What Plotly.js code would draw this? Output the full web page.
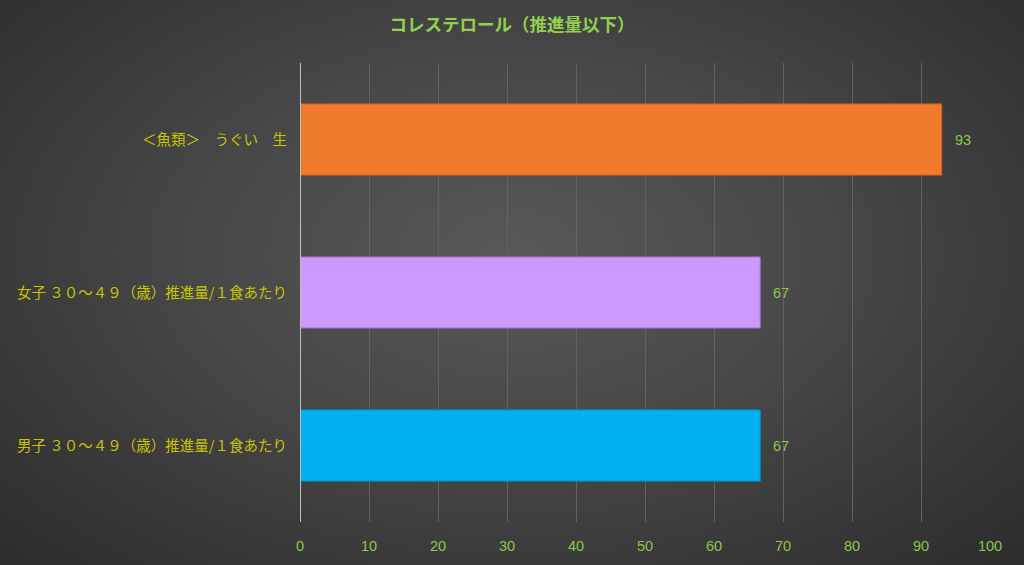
<!DOCTYPE html>
<html>
<head>
<meta charset="utf-8">
<script src="https://cdn.plot.ly/plotly-3.0.1.min.js"></script>
<style>
  html, body { margin: 0; padding: 0; }
  #chart {
    width: 1024px; height: 565px;
    background: radial-gradient(ellipse at 50% 45%, #585858 0%, #474747 45%, #2c2c2c 100%);
  }
</style>
</head>
<body>
<div id="chart"></div>
<script>
// bottom-to-top order, as the category axis draws them
const categories = [
  '男子 ３０～４９（歳）推進量/１食あたり',
  '女子 ３０～４９（歳）推進量/１食あたり',
  '＜魚類＞　うぐい　生'
];
const values = [66.7, 66.7, 93];
const barColors = ['#00B0F0', '#CC99FF', '#F07B2C'];
const edgeColors = ['#0094CC', '#9B6FCC', '#D5611C'];
const xTicks = [0, 10, 20, 30, 40, 50, 60, 70, 80, 90, 100];

const trace = {
  type: 'bar',
  orientation: 'h',
  y: categories,
  x: values,
  marker: { color: barColors, line: { color: edgeColors, width: 1 } },
  hoverinfo: 'skip',
  showlegend: false
};

// value labels sit a little right of each bar end, rounded like the source
const valueLabels = values.map(function (v, i) {
  return {
    x: v, y: categories[i], xref: 'x', yref: 'y',
    text: String(Math.round(v)), showarrow: false, xanchor: 'left', xshift: 11,
    font: { family: 'Liberation Sans, Arial, sans-serif', size: 14.5, color: '#8CC84B' }
  };
});

const layout = {
  width: 1024,
  height: 565,
  paper_bgcolor: 'rgba(0,0,0,0)',
  plot_bgcolor: 'rgba(0,0,0,0)',
  margin: { l: 300, r: 34, t: 63, b: 43, pad: 0 },
  bargap: 0.535,
  title: {
    text: '<b>コレステロール（推進量以下）</b>',
    x: 0.5, xref: 'container', xanchor: 'center',
    y: 0.956, yref: 'container', yanchor: 'middle',
    font: { family: 'Noto Sans CJK JP, sans-serif', size: 17.5, color: '#92D050' }
  },
  xaxis: {
    range: [0, 100],
    tickvals: xTicks,
    showgrid: true,
    gridcolor: '#626262',
    gridwidth: 1,
    zeroline: false,
    showline: false,
    ticks: '',
    ticklabelstandoff: 13,
    tickfont: { family: 'Liberation Sans, Arial, sans-serif', size: 14.5, color: '#8CC84B' },
    fixedrange: true
  },
  yaxis: {
    showgrid: false,
    zeroline: false,
    showline: false,
    ticks: '',
    ticklabelstandoff: 12,
    tickfont: { family: 'Noto Sans CJK JP, sans-serif', size: 14.5, color: '#C8C400' },
    fixedrange: true
  },
  shapes: [{
    type: 'line', xref: 'x', yref: 'paper',
    x0: 0, x1: 0, y0: 0, y1: 1,
    line: { color: '#BFBFBF', width: 2 }
  }],
  annotations: valueLabels
};

Plotly.newPlot('chart', [trace], layout, { displayModeBar: false, staticPlot: true });
</script>
</body>
</html>
